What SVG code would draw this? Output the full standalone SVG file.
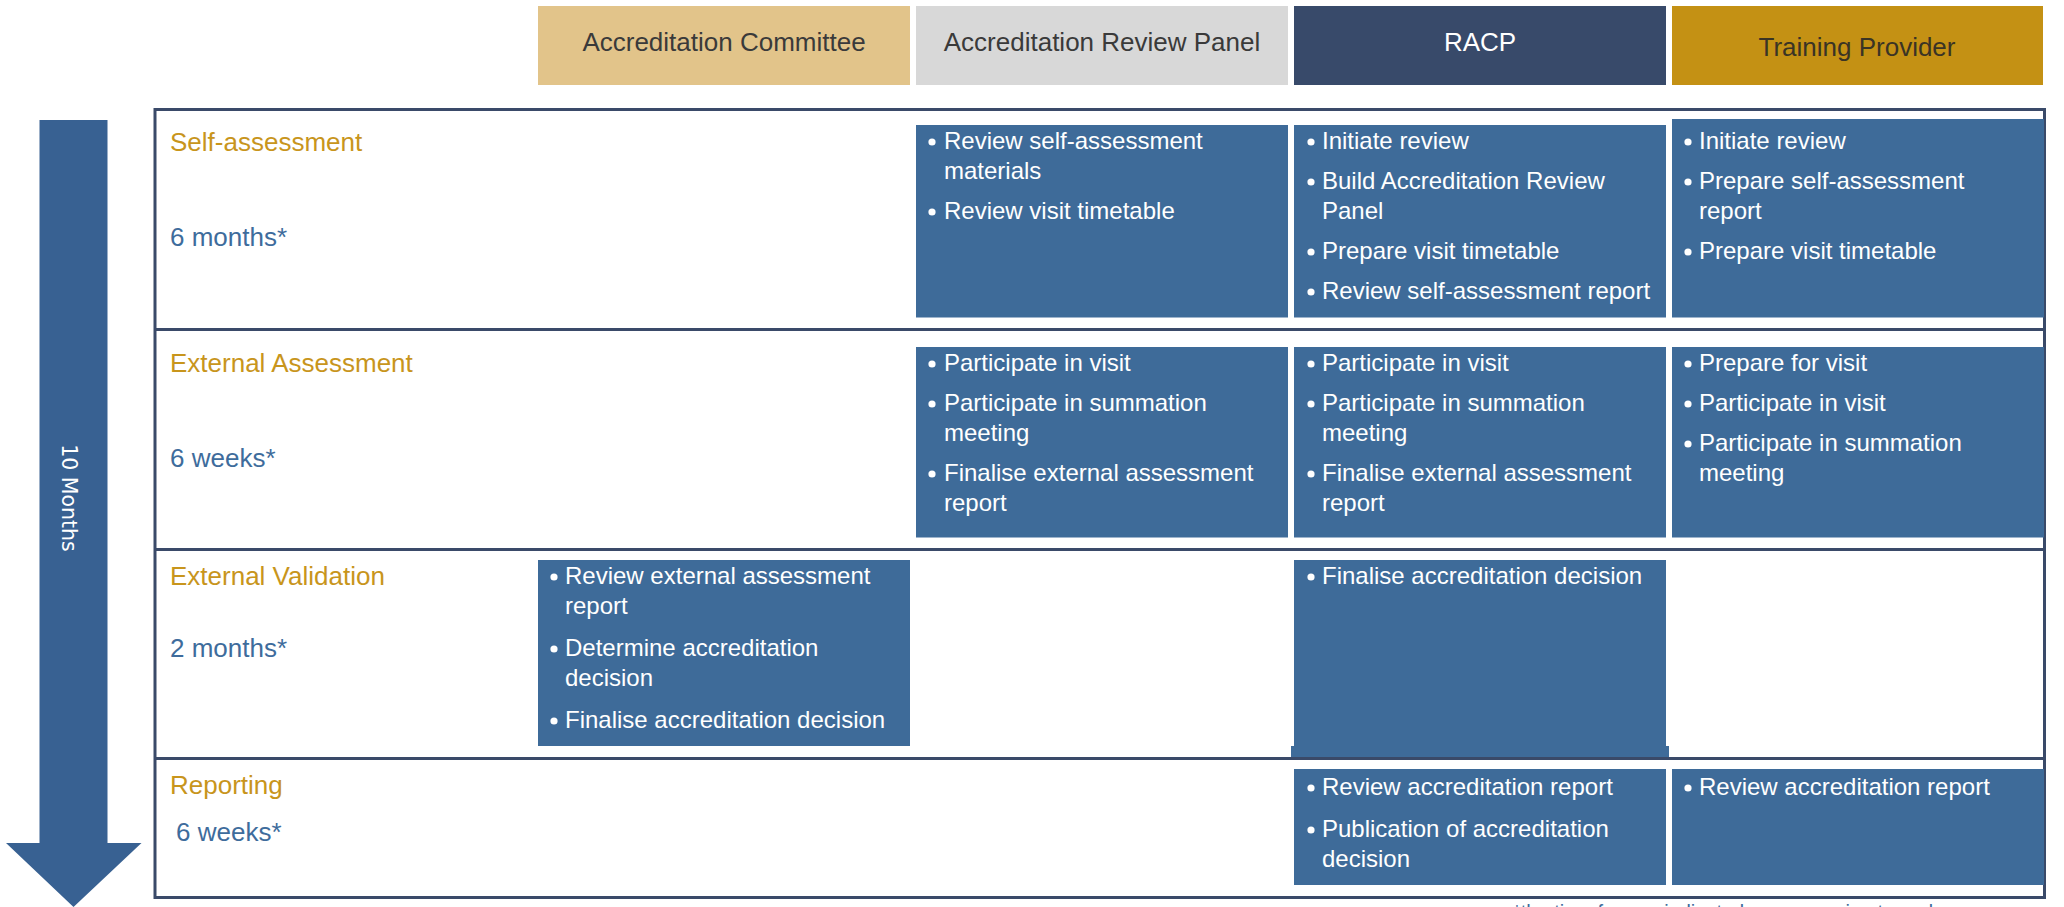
<svg xmlns="http://www.w3.org/2000/svg" width="2064" height="907" viewBox="0 0 2064 907">
<style>
  text { font-family: "Liberation Sans", Arial, sans-serif; }
  .hdr { font-size: 26px; text-anchor: middle; }
  .phase { font-size: 26px; fill: #c8951c; }
  .dur { font-size: 26px; fill: #3e6c9c; }
  .box { fill: #3e6b99; }
  .item { font-size: 24px; fill: #ffffff; }
  .dot { fill: #ffffff; }
  .rule { stroke: #3a4a69; stroke-width: 3; fill: none; }
  .foot { font-size: 20px; fill: #3e6c9c; }
</style>
<rect x="0" y="0" width="2064" height="907" fill="#ffffff"/>

<g id="header">
  <g id="hdr-committee"><rect x="538" y="6" width="372" height="79" fill="#e2c48a"/><text class="hdr" x="724" y="51" fill="#3a3a3a">Accreditation Committee</text></g>
  <g id="hdr-panel"><rect x="916" y="6" width="372" height="79" fill="#d8d8d8"/><text class="hdr" x="1102" y="51" fill="#3a3a3a">Accreditation Review Panel</text></g>
  <g id="hdr-racp"><rect x="1294" y="6" width="372" height="79" fill="#384a6a"/><text class="hdr" x="1480" y="51" fill="#ffffff">RACP</text></g>
  <g id="hdr-tp"><rect x="1672" y="6" width="371" height="79" fill="#c49114"/><text class="hdr" x="1857" y="56" fill="#3a3425">Training Provider</text></g>
</g>

<g id="timeline-arrow">
  <polygon points="39.5,120 107.5,120 107.5,843 141.5,843 73.5,907 6,843 39.5,843" fill="#386192"/>
  <text x="62" y="498" transform="rotate(90 62 498)" font-family="'DejaVu Sans', Verdana, sans-serif" font-size="20.5" fill="#ffffff" text-anchor="middle" style="font-family:'DejaVu Sans', Verdana, sans-serif">10 Months</text>
</g>

<g id="frame">
  <rect class="rule" x="155" y="109.5" width="1889.5" height="788"/>
  <line class="rule" x1="155" y1="329.5" x2="2044.5" y2="329.5"/>
  <line class="rule" x1="155" y1="549.5" x2="2044.5" y2="549.5"/>
  <line class="rule" x1="155" y1="758.5" x2="2044.5" y2="758.5"/>
</g>

<g id="phase-self">
  <text class="phase" x="170" y="150.5">Self-assessment</text>
  <text class="dur" x="170" y="246">6 months*</text>
</g>
<g id="phase-external-assessment">
  <text class="phase" x="170" y="371.5">External Assessment</text>
  <text class="dur" x="170" y="466.5">6 weeks*</text>
</g>
<g id="phase-external-validation">
  <text class="phase" x="170" y="585">External Validation</text>
  <text class="dur" x="170" y="656.5">2 months*</text>
</g>
<g id="phase-reporting">
  <text class="phase" x="170" y="794">Reporting</text>
  <text class="dur" x="176" y="840.5">6 weeks*</text>
</g>

<!-- Row 1 -->
<g id="r1-panel">
  <rect class="box" x="916" y="125" width="372" height="192.5"/>
  <circle class="dot" cx="932" cy="142" r="3.6"/><circle class="dot" cx="932" cy="212" r="3.6"/>
  <text class="item"><tspan x="944" y="149">Review self-assessment</tspan><tspan x="944" y="179">materials</tspan><tspan x="944" y="219">Review visit timetable</tspan></text>
</g>
<g id="r1-racp">
  <rect class="box" x="1294" y="125" width="372" height="192.5"/>
  <circle class="dot" cx="1311" cy="142" r="3.6"/><circle class="dot" cx="1311" cy="182" r="3.6"/><circle class="dot" cx="1311" cy="252" r="3.6"/><circle class="dot" cx="1311" cy="292" r="3.6"/>
  <text class="item"><tspan x="1322" y="149">Initiate review</tspan><tspan x="1322" y="189">Build Accreditation Review</tspan><tspan x="1322" y="219">Panel</tspan><tspan x="1322" y="259">Prepare visit timetable</tspan><tspan x="1322" y="299">Review self-assessment report</tspan></text>
</g>
<g id="r1-tp">
  <rect class="box" x="1672" y="119" width="372" height="198.5"/>
  <circle class="dot" cx="1688" cy="142" r="3.6"/><circle class="dot" cx="1688" cy="182" r="3.6"/><circle class="dot" cx="1688" cy="252" r="3.6"/>
  <text class="item"><tspan x="1699" y="149">Initiate review</tspan><tspan x="1699" y="189">Prepare self-assessment</tspan><tspan x="1699" y="219">report</tspan><tspan x="1699" y="259">Prepare visit timetable</tspan></text>
</g>

<!-- Row 2 -->
<g id="r2-panel">
  <rect class="box" x="916" y="347" width="372" height="190.5"/>
  <circle class="dot" cx="932" cy="364" r="3.6"/><circle class="dot" cx="932" cy="404" r="3.6"/><circle class="dot" cx="932" cy="474" r="3.6"/>
  <text class="item"><tspan x="944" y="371">Participate in visit</tspan><tspan x="944" y="411">Participate in summation</tspan><tspan x="944" y="441">meeting</tspan><tspan x="944" y="481">Finalise external assessment</tspan><tspan x="944" y="511">report</tspan></text>
</g>
<g id="r2-racp">
  <rect class="box" x="1294" y="347" width="372" height="190.5"/>
  <circle class="dot" cx="1311" cy="364" r="3.6"/><circle class="dot" cx="1311" cy="404" r="3.6"/><circle class="dot" cx="1311" cy="474" r="3.6"/>
  <text class="item"><tspan x="1322" y="371">Participate in visit</tspan><tspan x="1322" y="411">Participate in summation</tspan><tspan x="1322" y="441">meeting</tspan><tspan x="1322" y="481">Finalise external assessment</tspan><tspan x="1322" y="511">report</tspan></text>
</g>
<g id="r2-tp">
  <rect class="box" x="1672" y="347" width="372" height="190.5"/>
  <circle class="dot" cx="1688" cy="364" r="3.6"/><circle class="dot" cx="1688" cy="404" r="3.6"/><circle class="dot" cx="1688" cy="444" r="3.6"/>
  <text class="item"><tspan x="1699" y="371">Prepare for visit</tspan><tspan x="1699" y="411">Participate in visit</tspan><tspan x="1699" y="451">Participate in summation</tspan><tspan x="1699" y="481">meeting</tspan></text>
</g>

<!-- Row 3 -->
<g id="r3-committee">
  <rect class="box" x="538" y="560" width="372" height="186"/>
  <circle class="dot" cx="554" cy="577" r="3.6"/><circle class="dot" cx="554" cy="649" r="3.6"/><circle class="dot" cx="554" cy="721" r="3.6"/>
  <text class="item"><tspan x="565" y="584">Review external assessment</tspan><tspan x="565" y="614">report</tspan><tspan x="565" y="656">Determine accreditation</tspan><tspan x="565" y="686">decision</tspan><tspan x="565" y="728">Finalise accreditation decision</tspan></text>
</g>
<g id="r3-racp">
  <path class="box" d="M1294,560 H1666 V746 H1669 V757 H1291 V746 H1294 Z"/>
  <circle class="dot" cx="1311" cy="577" r="3.6"/>
  <text class="item"><tspan x="1322" y="584">Finalise accreditation decision</tspan></text>
</g>

<!-- Row 4 -->
<g id="r4-racp">
  <rect class="box" x="1294" y="769" width="372" height="116"/>
  <circle class="dot" cx="1311" cy="788" r="3.6"/><circle class="dot" cx="1311" cy="830" r="3.6"/>
  <text class="item"><tspan x="1322" y="795">Review accreditation report</tspan><tspan x="1322" y="837">Publication of accreditation</tspan><tspan x="1322" y="867">decision</tspan></text>
</g>
<g id="r4-tp">
  <rect class="box" x="1672" y="769" width="372" height="116"/>
  <circle class="dot" cx="1688" cy="788" r="3.6"/>
  <text class="item"><tspan x="1699" y="795">Review accreditation report</tspan></text>
</g>

<g id="connectors"></g>

<text class="foot" x="1513" y="919">*the time frames indicated are approximate and may vary</text>
</svg>
